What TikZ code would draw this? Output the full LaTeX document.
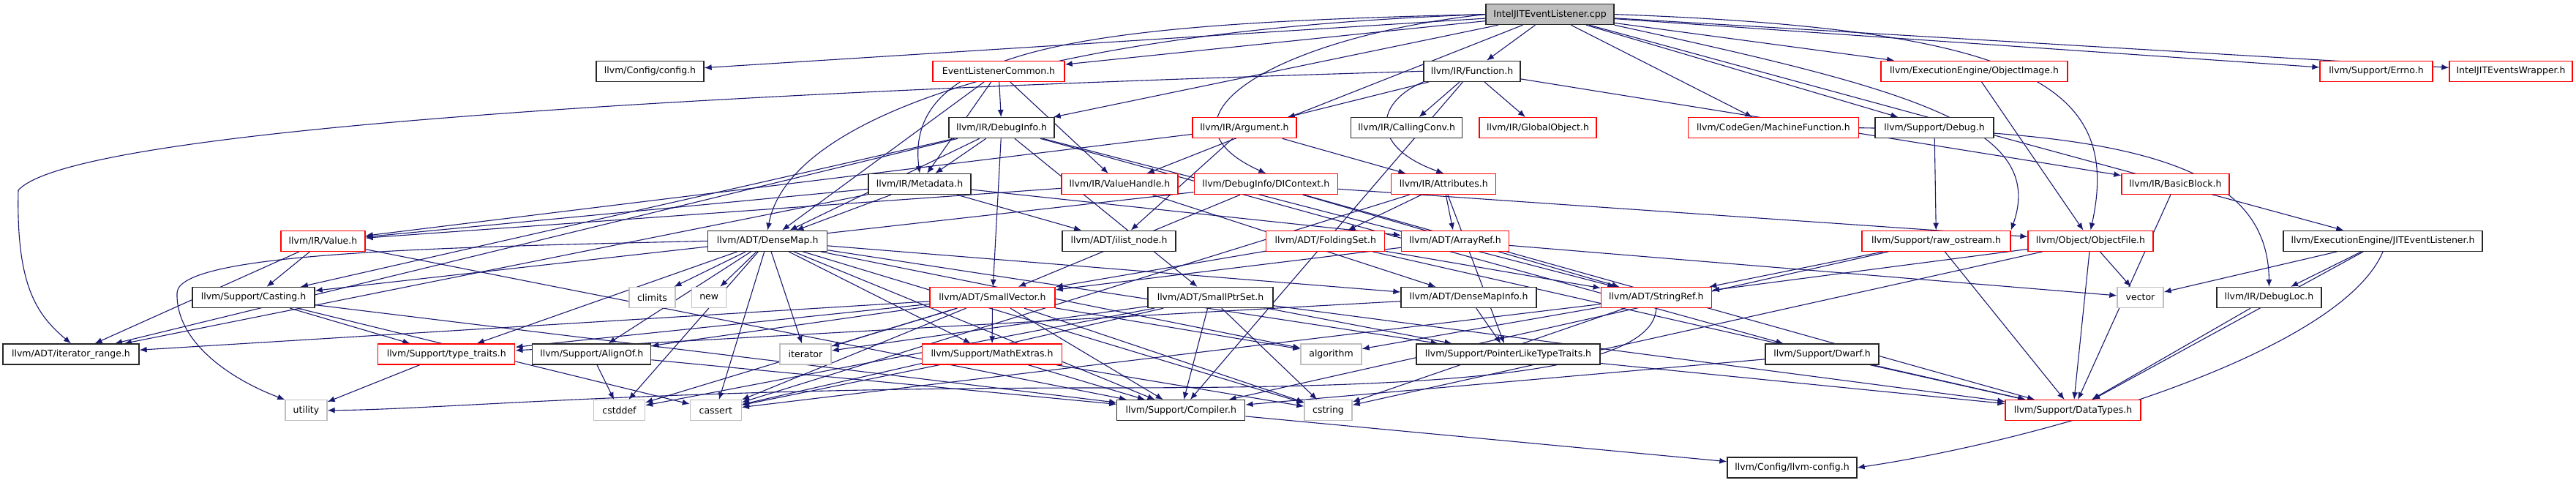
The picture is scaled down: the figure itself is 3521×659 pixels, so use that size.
\documentclass[tikz,border=0pt]{standalone}
\usepackage{fontspec}
\setmainfont{DejaVu Sans}
\usetikzlibrary{arrows.meta,calc}
\pgfdeclarelayer{bg}
\pgfsetlayers{bg,main}
\definecolor{edgeblue}{HTML}{191970}
\definecolor{nodegray}{HTML}{BFBFBF}
\definecolor{nodered}{HTML}{FF0000}
\tikzset{
 nb/.style={draw, rectangle, fill=white, inner sep=0pt, minimum height=28pt, line width=1.3pt, font=\fontsize{12.5}{15}\selectfont, text=black},
 blk/.style={nb, draw=black!85},
 rd/.style={nb, draw=nodered},
 gry/.style={nb, draw=nodegray},
 rootn/.style={nb, draw=black!85, fill=nodegray},
 edge/.style={draw=edgeblue, line width=1.1pt, -{Latex[length=10pt,width=8pt]}},
}
\begin{document}
\begin{tikzpicture}[x=1pt,y=-1pt]
\useasboundingbox (0,0) rectangle (3521,659);
% row 0
\node[rootn, minimum width=175pt] (root) at (2118.5,19.6) {IntelJITEventListener.cpp};
% row 1
\node[blk, minimum width=147pt] (config) at (888.5,97.3) {llvm/Config/config.h};
\node[rd, minimum width=180pt] (elc) at (1365,97.3) {EventListenerCommon.h};
\node[blk, minimum width=132pt] (func) at (2012,97.3) {llvm/IR/Function.h};
\node[rd, minimum width=255pt] (objimage) at (2698.5,97.3) {llvm/ExecutionEngine/ObjectImage.h};
\node[rd, minimum width=154pt] (errno) at (3248,97.3) {llvm/Support/Errno.h};
\node[rd, minimum width=168pt] (wrapper) at (3432,97.3) {IntelJITEventsWrapper.h};
% row 2
\node[blk, minimum width=144pt] (debuginfo) at (1369,174.7) {llvm/IR/DebugInfo.h};
\node[rd, minimum width=142pt] (argument) at (1701,174.7) {llvm/IR/Argument.h};
\node[blk, minimum width=152pt] (callingconv) at (1922.7,174.7) {llvm/IR/CallingConv.h};
\node[rd, minimum width=160pt] (globalobject) at (2102,174.7) {llvm/IR/GlobalObject.h};
\node[rd, minimum width=233pt] (machfunc) at (2424,174.7) {llvm/CodeGen/MachineFunction.h};
\node[blk, minimum width=162pt] (debug) at (2644,174.7) {llvm/Support/Debug.h};
% row 3
\node[blk, minimum width=140pt] (metadata) at (1257,251.6) {llvm/IR/Metadata.h};
\node[rd, minimum width=159pt] (valuehandle) at (1530.5,251.6) {llvm/IR/ValueHandle.h};
\node[rd, minimum width=196pt] (dicontext) at (1730.3,251.6) {llvm/DebugInfo/DIContext.h};
\node[rd, minimum width=143pt] (attributes) at (1973.3,251.6) {llvm/IR/Attributes.h};
\node[rd, minimum width=147pt] (basicblock) at (2973.5,251.6) {llvm/IR/BasicBlock.h};
% row 4
\node[rd, minimum width=115pt] (value) at (441.5,329.3) {llvm/IR/Value.h};
\node[blk, minimum width=163pt] (densemap) at (1049.2,329.3) {llvm/ADT/DenseMap.h};
\node[blk, minimum width=155pt] (ilistnode) at (1529.5,329.3) {llvm/ADT/ilist\_node.h};
\node[rd, minimum width=162pt] (foldingset) at (1811.8,329.3) {llvm/ADT/FoldingSet.h};
\node[rd, minimum width=147pt] (arrayref) at (1989,329.3) {llvm/ADT/ArrayRef.h};
\node[rd, minimum width=203pt] (rawos) at (2646.5,329.3) {llvm/Support/raw\_ostream.h};
\node[rd, minimum width=171pt] (objfile) at (2857.5,329.3) {llvm/Object/ObjectFile.h};
\node[blk, minimum width=272pt] (jitel) at (3257,329.3) {llvm/ExecutionEngine/JITEventListener.h};
% row 5
\node[blk, minimum width=167pt] (casting) at (346.5,406.5) {llvm/Support/Casting.h};
\node[gry, minimum width=63pt] (climits) at (891.5,406.5) {climits};
\node[gry, minimum width=47pt] (new) at (969.2,406.5) {new};
\node[rd, minimum width=171pt] (smallvector) at (1356.5,406.5) {llvm/ADT/SmallVector.h};
\node[blk, minimum width=171pt] (smallptrset) at (1654.5,406.5) {llvm/ADT/SmallPtrSet.h};
\node[blk, minimum width=185pt] (densemapinfo) at (2007.5,406.5) {llvm/ADT/DenseMapInfo.h};
\node[rd, minimum width=151pt] (stringref) at (2263.8,406.5) {llvm/ADT/StringRef.h};
\node[gry, minimum width=63pt] (vector) at (2925.5,406.5) {vector};
\node[blk, minimum width=143pt] (debugloc) at (3101.5,406.5) {llvm/IR/DebugLoc.h};
% row 6
\node[blk, minimum width=186pt] (iterrange) at (97,484) {llvm/ADT/iterator\_range.h};
\node[rd, minimum width=187pt] (typetraits) at (610.3,484) {llvm/Support/type\_traits.h};
\node[blk, minimum width=162pt] (alignof) at (808.8,484) {llvm/Support/AlignOf.h};
\node[rd, minimum width=191pt] (mathextras) at (1356,484) {llvm/Support/MathExtras.h};
\node[gry, minimum width=70pt] (iterator) at (1101,484) {iterator};
\node[gry, minimum width=83pt] (algorithm) at (1819.5,484) {algorithm};
\node[blk, minimum width=251pt] (pltt) at (2061.5,484) {llvm/Support/PointerLikeTypeTraits.h};
\node[blk, minimum width=155pt] (dwarf) at (2490.5,484) {llvm/Support/Dwarf.h};
% row 7
\node[gry, minimum width=57pt] (utility) at (418.5,560.7) {utility};
\node[gry, minimum width=70pt] (cstddef) at (846.5,560.7) {cstddef};
\node[gry, minimum width=70pt] (cassert) at (978.3,560.7) {cassert};
\node[blk, minimum width=175pt] (compiler) at (1614.3,560.7) {llvm/Support/Compiler.h};
\node[gry, minimum width=65pt] (cstring) at (1815.5,560.7) {cstring};
\node[rd, minimum width=185pt] (datatypes) at (2833.5,560.7) {llvm/Support/DataTypes.h};
% row 8
\node[blk, minimum width=177pt] (llvmconfig) at (2449.5,639) {llvm/Config/llvm-config.h};

\begin{pgfonlayer}{bg}
\foreach \a/\b in {root/config, root/elc, root/wrapper, root/machfunc, root/jitel, root/objimage, root/debuginfo, root/func, root/valuehandle, root/debug, root/errno,
 elc/debuginfo, elc/metadata, elc/densemap, elc/valuehandle,
 func/argument, func/basicblock, func/callingconv, func/globalobject, func/compiler,
 debuginfo/densemap, debuginfo/smallptrset, debuginfo/smallvector, debuginfo/stringref, debuginfo/iterrange, debuginfo/metadata, debuginfo/casting, debuginfo/dwarf,
 argument/attributes, argument/ilistnode, argument/value,
 metadata/arrayref, metadata/densemap, metadata/ilistnode, metadata/iterrange, metadata/value,
 valuehandle/densemapinfo, valuehandle/value,
 dicontext/smallvector, dicontext/stringref, dicontext/objfile, dicontext/casting, dicontext/datatypes,
 debug/rawos, objimage/objfile,
 attributes/foldingset, attributes/arrayref, attributes/pltt, attributes/cassert,
 basicblock/datatypes,
 value/iterrange, value/casting, value/compiler,
 densemap/densemapinfo, densemap/alignof, densemap/compiler, densemap/mathextras, densemap/pltt, densemap/typetraits, densemap/algorithm, densemap/cassert, densemap/climits, densemap/cstddef, densemap/cstring, densemap/iterator, densemap/new,
 foldingset/smallvector, foldingset/stringref, foldingset/datatypes,
 arrayref/smallvector, arrayref/vector,
 rawos/stringref, rawos/compiler, rawos/datatypes,
 objfile/stringref, objfile/datatypes, objfile/cstring, objfile/vector,
 jitel/debugloc, jitel/datatypes, jitel/vector,
 casting/compiler, casting/typetraits, casting/cassert,
 smallvector/iterrange, smallvector/alignof, smallvector/compiler, smallvector/mathextras, smallvector/typetraits, smallvector/algorithm, smallvector/cassert, smallvector/cstddef, smallvector/cstring, smallvector/iterator,
 smallptrset/compiler, smallptrset/datatypes, smallptrset/pltt, smallptrset/cassert, smallptrset/cstddef, smallptrset/cstring, smallptrset/iterator,
 densemapinfo/pltt, densemapinfo/typetraits,
 stringref/algorithm, stringref/cassert, stringref/cstring,
 debugloc/datatypes, typetraits/utility,
 alignof/compiler, alignof/cstddef,
 mathextras/compiler, mathextras/cassert, mathextras/cstring,
 pltt/datatypes, dwarf/compiler, dwarf/datatypes, compiler/llvmconfig}
 \draw[edge] (\a) -- (\b);
% curved routes
\draw[edge] (func.west) .. controls (1000,125) and (100,175) .. (25,260) .. controls (22,390) and (50,430) .. (iterrange.north);
\draw[edge] (func.south west) .. controls (1880,140) and (1870,200) .. (attributes.north);
\draw[edge] (machfunc.east) .. controls (2950,180) and (3100,240) .. (debugloc.north);
\draw[edge] (jitel.south) .. controls (3200,480) and (2800,600) .. (llvmconfig.east);
\draw[edge] (root.west) .. controls (1500,32) and (1235,60) .. (metadata.north);
\draw[edge] (root.west) .. controls (1450,40) and (1080,150) .. (densemap.north);
\draw[edge] (root.west) .. controls (1750,50) and (1560,160) .. (dicontext.north);
\draw[edge] (root.east) .. controls (2780,40) and (2900,120) .. (objfile.north);
\draw[edge] (root.south east) .. controls (2600,120) and (2800,170) .. (rawos.north east);
\draw[edge] (densemap.west) .. controls (600,338) and (245,345) .. (242,400) .. controls (240,470) and (320,520) .. (utility.north west);
\draw[edge] (stringref.south) .. controls (2260,520) and (1900,530) .. (1500,530) .. controls (900,530) and (600,560) .. (utility.east);
\end{pgfonlayer}
\end{tikzpicture}
\end{document}
